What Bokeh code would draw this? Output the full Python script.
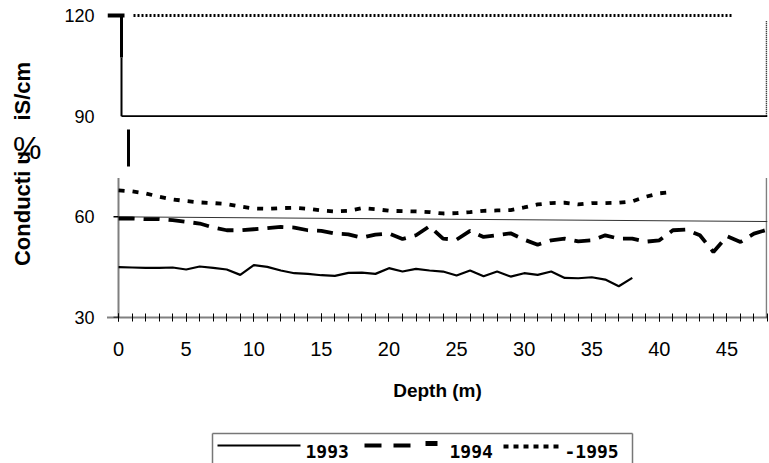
from bokeh.plotting import figure
from bokeh.models import Range1d, FixedTicker, LinearAxis
from bokeh.layouts import column
from bokeh.core.properties import value
from bokeh.embed import file_html
from bokeh.resources import INLINE

# ---------------- data ----------------
depth_1993 = list(range(0, 39))
cond_1993 = [45.0, 44.9, 44.8, 44.8, 44.9, 44.3, 45.2, 44.8, 44.3, 42.7,
             45.6, 45.1, 44.0, 43.2, 43.0, 42.6, 42.4, 43.3, 43.4, 43.0,
             44.7, 43.7, 44.5, 44.0, 43.7, 42.5, 44.0, 42.3, 43.7, 42.2,
             43.2, 42.7, 43.7, 41.8, 41.7, 42.0, 41.3, 39.3, 41.8]

depth_1994 = list(range(0, 49))
cond_1994 = [59.5, 59.5, 59.3, 59.3, 59.0, 58.5, 58.0, 56.8, 56.0, 56.0,
             56.3, 56.6, 57.0, 56.8, 56.0, 55.8, 55.0, 54.8, 53.8, 54.7,
             55.0, 53.4, 54.5, 57.2, 53.5, 53.2, 55.8, 54.0, 54.5, 55.1,
             53.2, 51.7, 53.0, 53.5, 52.7, 53.0, 54.5, 53.5, 53.5, 52.6,
             53.0, 56.0, 56.2, 54.5, 49.5, 54.2, 52.5, 55.0, 56.2]

depth_1995 = list(range(0, 42))
cond_1995 = [67.9, 67.6, 67.0, 66.0, 65.2, 64.7, 64.3, 64.1, 63.8, 63.1,
             62.5, 62.4, 62.6, 62.7, 62.4, 61.9, 61.6, 61.8, 62.6, 62.3,
             61.8, 61.7, 61.6, 61.4, 61.0, 61.1, 61.4, 61.8, 61.9, 62.0,
             62.8, 63.7, 64.1, 64.2, 63.7, 64.1, 64.1, 64.2, 64.6, 66.0,
             67.0, 67.4]

ref_depth = [0, 48]
ref_cond = [60.0, 58.6]

y_ticks = [30, 60, 90, 120]
x_ticks = [0, 5, 10, 15, 20, 25, 30, 35, 40, 45]
x_minor = list(range(0, 49))
series_names = ["1993", "1994", "-1995"]
pct_tick = 80.4
NB = "\u00a0"
y_label_text = "Conducti" + NB + "u" + NB * 5 + "iS/cm"

# ---------------- main figure ----------------
X0, X1 = -0.82, 48.0
Y0, Y1 = 30.0, 121.49
p = figure(frame_width=660, frame_height=307, output_backend="svg",
           toolbar_location=None,
           x_range=Range1d(X0, X1), y_range=Range1d(Y0, Y1),
           min_border_left=107, min_border_right=2, min_border_top=10,
           min_border_bottom=90)
p.outline_line_color = None
p.xgrid.visible = False
p.ygrid.visible = False
p.background_fill_color = "white"

FL, FR, FT, FB = 107.0, 767.0, 10.0, 317.0
def dx(px):
    return X0 + (px - FL) * (X1 - X0) / (FR - FL)
def dy(py):
    return Y0 + (FB - py) * (Y1 - Y0) / (FB - FT)

xa = p.xaxis[0]
xa.ticker = FixedTicker(ticks=x_ticks, minor_ticks=x_minor)
xa.axis_line_color = "black"
xa.axis_line_width = 2
xa.axis_line_dash = "1 1"
xa.major_tick_in = 4
xa.major_tick_out = 4
xa.minor_tick_in = 4
xa.minor_tick_out = 4
xa.major_tick_line_color = "black"
xa.minor_tick_line_color = "black"
xa.major_tick_line_width = 1
xa.minor_tick_line_width = 1
xa.major_label_text_font = "Liberation Sans"
xa.major_label_text_font_size = "20px"
xa.major_label_text_color = "black"
xa.major_label_standoff = 20
xa.axis_label = "Depth (m)"
xa.axis_label_text_font = "Liberation Sans"
xa.axis_label_text_font_style = "bold"
xa.axis_label_text_font_size = "19px"
xa.axis_label_text_color = "black"
xa.axis_label_standoff = 21

ya = p.yaxis[0]
ya.ticker = FixedTicker(ticks=y_ticks, minor_ticks=[])
ya.axis_line_color = None
ya.major_tick_line_color = None
ya.minor_tick_line_color = None
ya.major_tick_in = 0
ya.major_tick_out = 0
ya.major_label_text_font = "Liberation Sans"
ya.major_label_text_font_size = "18px"
ya.major_label_text_color = "black"
ya.major_label_standoff = 13

ya2 = LinearAxis(ticker=FixedTicker(ticks=[pct_tick], minor_ticks=[]),
                 major_label_overrides={pct_tick: "%"})
ya2.axis_line_color = None
ya2.major_tick_line_color = None
ya2.minor_tick_line_color = None
ya2.major_tick_in = 0
ya2.major_tick_out = 0
ya2.major_label_text_font = "Liberation Sans"
ya2.major_label_text_font_size = "32px"
ya2.major_label_text_color = "black"
ya2.major_label_standoff = 20
ya2.axis_label = y_label_text
ya2.axis_label_text_font = "Liberation Sans"
ya2.axis_label_text_font_style = "bold"
ya2.axis_label_text_font_size = "22px"
ya2.axis_label_text_color = "black"
ya2.axis_label_standoff = -25
p.add_layout(ya2, "left")

# broken-axis frame decorations
lx = dx(118)
p.segment(x0=[lx], y0=[30], x1=[lx], y1=[dy(177)], line_color="black",
          line_width=2, line_dash="1 1")
p.segment(x0=[dx(113), dx(113)], y0=[60, 30], x1=[lx, lx], y1=[60, 30],
          line_color="black", line_width=1.5)
rx = dx(766)
p.segment(x0=[rx], y0=[30], x1=[rx], y1=[dy(177)], line_color="black",
          line_width=1.5, line_dash="1 1")
p.segment(x0=[rx], y0=[90], x1=[rx], y1=[dy(20)], line_color="black",
          line_width=1.5, line_dash="1 1")
ux = dx(121)
p.segment(x0=[ux], y0=[90], x1=[ux], y1=[dy(57)], line_color="black", line_width=2)
p.segment(x0=[ux], y0=[dy(57)], x1=[ux], y1=[120], line_color="black", line_width=3)
p.segment(x0=[ux], y0=[90], x1=[X1], y1=[90], line_color="black", line_width=1.8)
p.segment(x0=[dx(133)], y0=[120], x1=[dx(733)], y1=[120], line_color="black",
          line_width=3, line_dash="2 2")
p.quad(left=[dx(107)], right=[dx(124)], top=[dy(13)], bottom=[dy(17)],
       fill_color="black", line_color=None)
p.segment(x0=[dx(128)], y0=[dy(129)], x1=[dx(128)], y1=[dy(166)],
          line_color="black", line_width=3)

p.line(ref_depth, ref_cond, line_color="#333333", line_width=1)

# series
p.line(depth_1993, cond_1993, line_color="black", line_width=2.2)
p.line(depth_1994, cond_1994, line_color="black", line_width=3.8, line_dash="16 9")
p.line(depth_1995, cond_1995, line_color="black", line_width=3.8, line_dash="6 8")

# ---------------- legend strip (pixel coordinates, y down) ----------------
# the column layout aligns this strip's frame with the main frame (x 107..767)
LH = 56
lg = figure(width=769, height=LH, output_backend="svg", toolbar_location=None,
            x_range=Range1d(107, 767), y_range=Range1d(LH, 0),
            x_axis_type=None, y_axis_type=None, min_border=0,
            min_border_left=107, min_border_right=2)
lg.outline_line_color = None
lg.xgrid.visible = False
lg.ygrid.visible = False

top = 26
lg.segment(x0=[212, 212, 632], y0=[top, top, top], x1=[632, 212, 632],
           y1=[top, LH + 5, LH + 5], line_color="#777777", line_width=1.5)
ly = top + 12
lg.segment(x0=[217], y0=[ly], x1=[300], y1=[ly], line_color="black", line_width=2)
lg.segment(x0=[364, 393, 425], y0=[ly, ly, ly - 2], x1=[381, 410, 437],
           y1=[ly, ly, ly - 2], line_color="black", line_width=[4, 4, 5])
lg.segment(x0=[503], y0=[ly + 1], x1=[559], y1=[ly + 1], line_color="black",
           line_width=4, line_dash="5 5")
lg.text(x=[305, 449, 564], y=[ly + 6] * 3, text=series_names,
        text_font=value("DejaVu Sans Mono"), text_font_style="bold",
        text_font_size="18px", text_color="black", text_baseline="middle",
        text_align="left")

layout = column(p, lg, spacing=0)
open("out.html", "w").write(file_html(layout, INLINE))
